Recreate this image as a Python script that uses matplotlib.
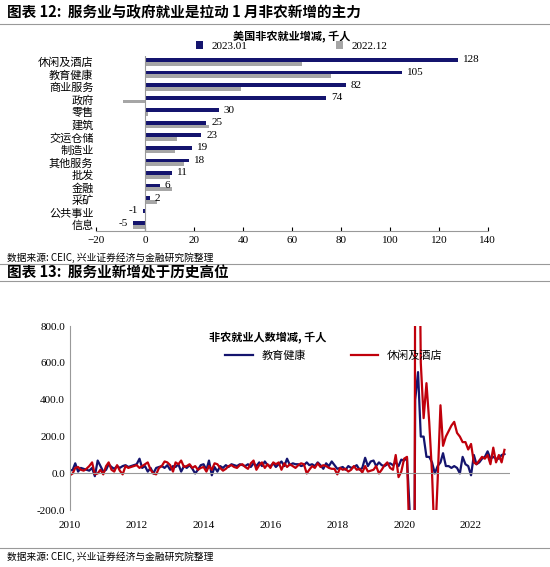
import matplotlib.pyplot as plt
import numpy as np
import pandas as pd

plt.rcParams['font.family'] = ['Noto Sans CJK SC', 'DejaVu Sans']
plt.rcParams['font.size'] = 8

# chart 12 data
sectors = ['休闲及酒店', '教育健康', '商业服务', '政府', '零售', '建筑', '交运仓储',
           '制造业', '其他服务', '批发', '金融', '采矿', '公共事业', '信息']
jan23 = [128, 105, 82, 74, 30, 25, 23, 19, 18, 11, 6, 2, -1, -5]
dec22 = [64, 76, 39, -9, 1, 26, 13, 12, 16, 10, 11, 5, 0, -5]

# chart 13 data, monthly 2010.01 - 2023.01
edu = [
    15, 20, 55, 10, 30, 25, 20, 15, 30, -15, 70, 40,
    10, 20, 50, 35, 25, 40, 30, 40, 45, 35, 40, 45,
    50, 80, 30, 40, 10, 30, 0, 30, 35, 40, 30, 45,
    20, 40, 35, 50, 10, 40, 30, 45, 25, 0, 20, 45,
    50, 20, 70, -10, 35, 10, 40, 30, 45, 35, 50, 45,
    40, 50, 45, 40, 50, 35, 55, 40, 60, 40, 65, 45,
    40, 55, 35, 50, 65, 40, 80, 45, 55, 50, 50, 40,
    45, 60, 45, 50, 40, 60, 45, 25, 55, 40, 65, 45,
    25, 30, 35, 20, 40, 30, 35, 45, 20, 30, 85, 40,
    65, 70, 40, 60, 45, 40, 50, 55, 45, 60, 40, 75,
    70, 85, -200, -2500, 400, 550, 200, 200, 90, 90, 60, 0,
    40, 60, 110, 40, 40, 30, 40, 30, 0, 90, 50, 40,
    -10, 100, 50, 60, 80, 90, 120, 80, 90, 80, 80, 100,
    105]
leisure = [
    -10, 0, 30, 35, 20, 15, 25, 40, 60, -5, 0, 20,
    -5, 40, 60, 20, 10, 45, 15, -5, 40, 30, 35, 40,
    45, 30, 40, 50, 60, 20, 0, -5, 30, 40, 65, 60,
    45, 10, 60, 50, 70, 35, 40, 50, 30, 40, 20, 30,
    35, 10, 40, 20, 55, 50, 30, 15, 25, 40, 45, 35,
    30, 45, 50, 35, 25, 55, 70, 20, 45, 60, 30, 50,
    30, 60, 50, 60, 20, 55, 35, 50, 40, 30, 45, 55,
    50, 0, 20, 40, 30, 55, 35, 45, 40, 30, 25, 25,
    -5, 30, 20, 25, 10, 20, 40, 20, 25, 5, 40, 10,
    15, 20, 40, 0, 20, 45, 60, 30, 20, 100, -20, 10,
    80, 90, -400, -7700, 1400, 2000, 600, 300, 490, 280, 0, -400,
    -40, 370, 150, 200, 230, 260, 280, 220, 200, 170, 170, 130,
    160, 60, 50, 70, 90, 80, 100, 50, 140, 60, 100, 60,
    128]
dates = pd.date_range('2010-01-01', periods=len(edu), freq='MS')

navy = '#14146e'
gray = '#a6a6a6'
red = '#c0000b'

fig = plt.figure(figsize=(5.5, 5.67), dpi=100)

fig.text(0.012, 0.978, '图表 12:  服务业与政府就业是拉动 1 月非农新增的主力', fontsize=10.5,
         fontweight='bold', va='center')
fig.text(0.012, 0.52, '图表 13:  服务业新增处于历史高位', fontsize=10.5,
         fontweight='bold', va='center')
fig.text(0.012, 0.545, '数据来源: CEIC, 兴业证券经济与金融研究院整理', fontsize=7, va='center')
fig.text(0.012, 0.018, '数据来源: CEIC, 兴业证券经济与金融研究院整理', fontsize=7, va='center')
for yy in (0.958, 0.535, 0.505, 0.033):
    fig.add_artist(plt.Line2D([0, 1], [yy, yy], color='#999999', lw=0.8))

# top chart
ax1 = fig.add_axes([0.175, 0.592, 0.712, 0.31])
y = np.arange(len(sectors))
h = 0.3
ax1.barh(y - h / 2, jan23, height=h, color=navy, label='2023.01')
ax1.barh(y + h / 2, dec22, height=h, color=gray, label='2022.12')
for yi, v in zip(y, jan23):
    ax1.text(v + 2 if v >= 0 else v - 2, yi - h / 2, str(v), va='center',
             ha='left' if v >= 0 else 'right', fontsize=8, family='Liberation Serif')
ax1.set_yticks(y)
ax1.set_yticklabels(sectors, fontsize=8)
ax1.set_ylim(len(sectors) - 0.5, -0.5)
ax1.set_xlim(-20, 140)
ax1.set_xticks(range(-20, 141, 20))
for lab in ax1.get_xticklabels():
    lab.set_family('Liberation Serif')
ax1.tick_params(axis='y', length=0, pad=2)
ax1.tick_params(axis='x', labelsize=8, direction='in', length=3)
ax1.axvline(0, color='#999999', lw=0.8)
for s in ['top', 'right', 'left']:
    ax1.spines[s].set_visible(False)
ax1.spines['bottom'].set_color('#999999')
ax1.set_title('美国非农就业增减, 千人', fontsize=8, fontweight='bold', pad=11)
ax1.legend(loc='lower center', bbox_to_anchor=(0.5, 0.995), ncol=2, frameon=False,
           borderpad=0, handlelength=0.6, handleheight=0.6, columnspacing=8,
           prop={'family': 'Liberation Serif', 'size': 8})

# bottom chart
ax2 = fig.add_axes([0.127, 0.1, 0.8, 0.325])
ax2.plot(dates, edu, color=navy, lw=1.6, label='教育健康')
ax2.plot(dates, leisure, color=red, lw=1.6, label='休闲及酒店')
ax2.set_ylim(-200, 800)
ax2.set_yticks(range(-200, 801, 200))
ax2.set_yticklabels(['%.1f' % v for v in range(-200, 801, 200)],
                    family='Liberation Serif', fontsize=8)
ax2.set_xlim(pd.Timestamp('2010-01-01'), pd.Timestamp('2023-03-01'))
years = [pd.Timestamp('%d-01-01' % yy) for yy in range(2010, 2023, 2)]
ax2.set_xticks(years)
ax2.set_xticklabels([str(d.year) for d in years], family='Liberation Serif', fontsize=8)
ax2.axhline(0, color='#999999', lw=0.8)
for s in ['top', 'right', 'bottom']:
    ax2.spines[s].set_visible(False)
ax2.spines['left'].set_color('#999999')
ax2.tick_params(length=0)
ax2.tick_params(axis='x', pad=8)
ax2.text(0.45, 0.97, '非农就业人数增减, 千人', transform=ax2.transAxes, fontsize=8,
         fontweight='bold', ha='center', va='top')
ax2.legend(loc='upper center', bbox_to_anchor=(0.6, 0.92), ncol=2, frameon=False,
           fontsize=8, columnspacing=4, handlelength=2.5)

fig.savefig('out.png', dpi=100)
